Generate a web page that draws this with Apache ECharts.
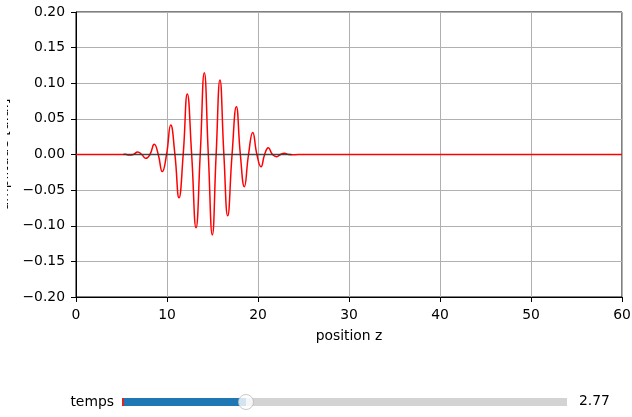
<!DOCTYPE html>
<html>
<head>
<meta charset="utf-8">
<script src="https://cdn.jsdelivr.net/npm/echarts@6/dist/echarts.min.js"></script>
<style>
html,body{margin:0;padding:0;background:#fff;}
#chart{width:632px;height:417px;}
</style>
</head>
<body>
<div id="chart"></div>
<script>
// wave packet
const zPos = [0, 5.0, 5.4, 5.86, 6.3, 6.78, 7.22, 7.66, 8.13, 8.60, 9.04, 9.48, 9.95, 10.41, 10.87, 11.32, 11.78, 12.23, 12.71, 13.19, 13.65, 14.10, 14.54, 14.98, 15.40, 15.82, 16.25, 16.67, 17.15, 17.62, 18.06, 18.50, 18.96, 19.42, 19.88, 20.33, 20.73, 21.13, 21.59, 22.05, 22.47, 22.89, 23.4, 24.0, 25.0, 60];
const amp  = [0, 0, 0.0003, -0.0008, 0, 0.0035, 0, -0.0054, 0, 0.0143, 0, -0.024, 0, 0.0414, 0, -0.0606, 0, 0.0849, 0, -0.1027, 0, 0.1148, 0, -0.113, 0, 0.1046, 0, -0.0859, 0, 0.067, 0, -0.0452, 0, 0.031, 0, -0.0171, 0, 0.0095, 0, -0.003, 0, 0.0017, 0, -0.0003, 0, 0];
// dark baseline segment
const baseZ = [5.2, 23.7];
const baseAmp = [0, 0];
// axes
const xTicks = [0, 10, 20, 30, 40, 50, 60];
const yTicks = [-0.20, -0.15, -0.10, -0.05, 0.00, 0.05, 0.10, 0.15, 0.20];
// slider
const sliderName = 'temps';
const sliderMin = 0;
const sliderMax = 10;
const sliderValue = 2.77;

const font = 'DejaVu Sans';
const fmt = v => v.toFixed(2).replace('-', '\u2212');

const chart = echarts.init(document.getElementById('chart'), null, {renderer: 'canvas'});
chart.setOption({
  animation: false,
  backgroundColor: '#fff',
  textStyle: {fontFamily: font},
  grid: [
    {left: 76, right: 10, top: 12, bottom: 120, show: true, borderColor: '#000', borderWidth: 1,
     backgroundColor: 'transparent', containLabel: false, outerBoundsMode: 'none'},
    {left: 123, width: 444, top: 398, height: 8, containLabel: false, outerBoundsMode: 'none'}
  ],
  xAxis: [
    {
      type: 'value', gridIndex: 0, min: xTicks[0], max: xTicks[xTicks.length - 1], interval: 10,
      name: 'position z', nameLocation: 'middle', nameGap: 32,
      nameTextStyle: {color: '#000', fontSize: 13.9, fontFamily: font},
      axisLine: {show: true, onZero: false, lineStyle: {color: '#000', width: 1}},
      axisTick: {show: true, inside: false, length: 5, lineStyle: {color: '#000', width: 1}},
      axisLabel: {color: '#000', fontSize: 13.9, fontFamily: font, margin: 11},
      splitLine: {show: true, lineStyle: {color: '#b0b0b0', width: 1}}
    },
    {
      type: 'value', gridIndex: 1, min: sliderMin, max: sliderMax, show: false
    }
  ],
  yAxis: [
    {
      type: 'value', gridIndex: 0, min: yTicks[0], max: yTicks[yTicks.length - 1], interval: 0.05,
      name: 'amplitude [u.a.]', nameLocation: 'middle', nameGap: 65, nameRotate: 90,
      nameTextStyle: {color: '#000', fontSize: 13.9, fontFamily: font},
      axisLine: {show: true, onZero: false, lineStyle: {color: '#000', width: 1}},
      axisTick: {show: true, inside: false, length: 5, lineStyle: {color: '#000', width: 1}},
      axisLabel: {color: '#000', fontSize: 13.9, fontFamily: font, margin: 11, formatter: fmt},
      splitLine: {show: true, lineStyle: {color: '#b0b0b0', width: 1}}
    },
    {
      type: 'category', gridIndex: 1, data: [sliderName],
      axisLine: {show: false}, axisTick: {show: false}, splitLine: {show: false},
      axisLabel: {color: '#000', fontSize: 13.9, fontFamily: font, margin: 9}
    }
  ],
  series: [
    {
      type: 'line', xAxisIndex: 0, yAxisIndex: 0, name: 'wave',
      data: zPos.map((z, i) => [z, amp[i]]),
      smooth: 0.5, symbol: 'none',
      lineStyle: {color: '#ff0000', width: 1.5},
      z: 3
    },
    {
      type: 'line', xAxisIndex: 0, yAxisIndex: 0, name: 'base',
      data: baseZ.map((z, i) => [z, baseAmp[i]]),
      symbol: 'none',
      lineStyle: {color: '#333', width: 1.5, opacity: 0.85},
      z: 4
    },
    {
      type: 'bar', xAxisIndex: 1, yAxisIndex: 1,
      data: [sliderMax], barWidth: 8, barGap: '-100%',
      itemStyle: {color: '#d3d3d3'}, silent: true, z: 2
    },
    {
      type: 'bar', xAxisIndex: 1, yAxisIndex: 1,
      data: [sliderValue], barWidth: 8, barGap: '-100%',
      itemStyle: {color: '#1f77b4'}, silent: true, z: 3,
      markLine: {
        symbol: 'none', silent: true, label: {show: false},
        lineStyle: {color: '#d62728', width: 2, type: 'solid'},
        data: [{xAxis: sliderMin}]
      }
    },
    {
      type: 'scatter', xAxisIndex: 1, yAxisIndex: 1,
      data: [[sliderValue, sliderName]], symbol: 'circle', symbolSize: 15,
      itemStyle: {color: '#fff', borderColor: '#bbbbbb', borderWidth: 1},
      z: 5
    }
  ]
});
// value readout on the right of the slider, and the cropped left figure edge
const px = chart.convertToPixel({xAxisIndex: 1, yAxisIndex: 1}, [sliderMax, sliderName]);
chart.setOption({
  graphic: [
    {
      type: 'text', left: px[0] + 12, top: px[1] - 8,
      style: {text: sliderValue.toFixed(2), fill: '#000', font: '13.9px "DejaVu Sans"'}
    },
    {
      type: 'rect', left: 0, top: 0, z: 100, silent: true,
      shape: {x: 0, y: 0, width: 7, height: 300}, style: {fill: '#fff'}
    }
  ]
});
</script>
</body>
</html>
